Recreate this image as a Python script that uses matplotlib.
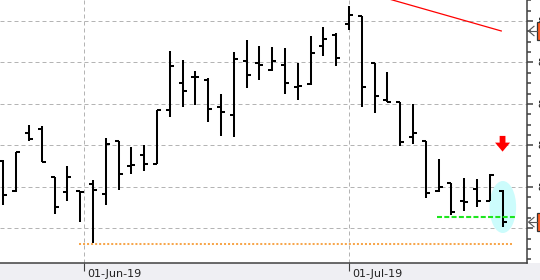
import numpy as np
import pandas as pd
import matplotlib
matplotlib.use("Agg")
import matplotlib.pyplot as plt
from matplotlib.patches import Ellipse, Rectangle, Polygon
from matplotlib.lines import Line2D
from matplotlib.ticker import MultipleLocator, FormatStrFormatter
from matplotlib.transforms import blended_transform_factory

# ---------------- data ----------------
dates = pd.bdate_range("2019-05-22", "2019-07-18")
dates = dates.drop([pd.Timestamp("2019-05-27"), pd.Timestamp("2019-07-04")])

opens = [81.63, 80.89, 82.29, 82.39, 81.23, 80.87, 80.90, 81.07, 80.82, 82.11,
         81.50, 81.76, 81.54, 82.85, 83.50, 83.64, 83.57, 82.92, 82.73, 84.03,
         83.98, 83.81, 83.93, 83.42, 83.47, 84.39, 84.66, 84.94, 85.13, 83.99,
         83.09, 83.04, 82.20, 82.11, 80.89, 81.09, 80.66, 80.95, 80.65, 80.90]
highs = [81.64, 81.84, 82.49, 82.47, 81.23, 81.50, 80.90, 81.16, 82.17, 82.11,
         81.97, 82.00, 82.85, 84.28, 84.06, 83.79, 83.62, 83.24, 84.25, 84.54,
         84.40, 84.37, 84.34, 83.99, 84.64, 84.86, 84.71, 85.36, 85.13, 83.99,
         83.78, 83.04, 83.01, 82.11, 81.67, 81.09, 81.21, 81.19, 81.31, 80.92]
lows = [80.56, 80.88, 82.11, 81.59, 80.35, 80.67, 80.16, 79.65, 80.57, 80.92,
        81.30, 81.39, 81.54, 82.69, 82.93, 82.97, 82.57, 82.23, 82.21, 83.39,
        83.58, 83.80, 83.24, 83.10, 83.46, 84.16, 83.92, 84.78, 82.93, 82.79,
        83.04, 81.99, 82.04, 80.74, 80.88, 80.32, 80.42, 80.52, 80.65, 80.04]
closes = [80.80, 81.84, 82.16, 81.61, 80.51, 81.23, 80.88, 80.92, 82.03, 81.31,
          81.52, 81.54, 82.85, 83.91, 83.31, 83.64, 82.87, 82.80, 84.08, 83.69,
          83.93, 84.03, 83.50, 83.44, 84.23, 84.56, 84.12, 85.14, 83.40, 83.18,
          83.04, 82.07, 82.29, 80.84, 80.99, 80.39, 80.63, 80.65, 81.29, 80.15]

tick_dates = ["2019-06-01", "2019-07-01"]
tick_labels = ["01-Jun-19", "01-Jul-19"]

trend_x = [29.0, 38.9]          # bar index
trend_y = [85.63, 84.76]
support_level = 80.28
support_x = [33.9, 40.0]
low_level = 79.63
low_x = [5.9, 39.8]

# ---------------- figure ----------------
W, H = 540, 280
fig = plt.figure(figsize=(W / 100, H / 100), dpi=100)
fig.patch.set_facecolor("white")
ax_bottom_px = 263.3
ax_right_px = 527.0
ax = fig.add_axes([0, (H - ax_bottom_px) / H, ax_right_px / W, ax_bottom_px / H])
ax.set_facecolor("white")

# grey strip under the plot
fig.patches.append(Rectangle((0, 0), 1, (H - ax_bottom_px) / H, transform=fig.transFigure,
                             facecolor="#efeff3", edgecolor="none", zorder=-10))

x = np.arange(len(opens))
xlim = (-0.26, 40.91)
ylim = (79.156, 85.507)
ax.set_xlim(*xlim)
ax.set_ylim(*ylim)
px_x = (xlim[1] - xlim[0]) / ax_right_px
px_y = (ylim[1] - ylim[0]) / ax_bottom_px

# grid
grid_kw = dict(color="#b4b4b4", lw=0.72, dashes=(4, 3), zorder=0.5)
for v in np.arange(80, 86, 1):
    ax.axhline(v, **grid_kw)
date_int = dates.values.astype("int64")
tick_pos = [np.interp(pd.Timestamp(d).value, date_int, x) for d in tick_dates]
for p in tick_pos:
    ax.axvline(p, **grid_kw)

# highlight ellipse around last bar
ax.add_patch(Ellipse((x[-1] + 0.02, 80.514), 2.08, 1.254, facecolor="#ccfcfc",
                     edgecolor="none", zorder=1))

# OHLC bars
tw = 4.0 * px_x
bar_kw = dict(color="black", lw=1.45, capstyle="butt", zorder=3)
ax.vlines(x, lows, highs, **bar_kw)
ax.hlines(opens, x - tw, x, **bar_kw)
ax.hlines(closes, x, x + tw, **bar_kw)

# trend line
ax.plot(trend_x, trend_y, color="#ff0000", lw=0.9, zorder=4)
# support (green dashed)
ax.plot(support_x, [support_level] * 2, color="#1ee61e", lw=1.5, dashes=(2.4, 1.1),
        zorder=4, solid_capstyle="butt", dash_capstyle="butt")
# low (orange dotted)
ax.plot(low_x, [low_level] * 2, color="#f7a64c", lw=1.45, dashes=(1, 1),
        zorder=4, dash_capstyle="butt")

# red down arrow above last bar
ax_x = x[-1]
tip = 81.85
arrow = [(ax_x - 2.9 * px_x, tip + 15.7 * px_y), (ax_x + 2.9 * px_x, tip + 15.7 * px_y),
         (ax_x + 2.9 * px_x, tip + 9 * px_y), (ax_x + 7.5 * px_x, tip + 9 * px_y),
         (ax_x, tip), (ax_x - 7.5 * px_x, tip + 9 * px_y),
         (ax_x - 2.9 * px_x, tip + 9 * px_y)]
ax.add_patch(Polygon(arrow, closed=True, facecolor="#ff0000", edgecolor="none", zorder=5))

# spines / axes
for s in ("left", "top"):
    ax.spines[s].set_visible(False)
for s in ("right", "bottom"):
    ax.spines[s].set_color("#404040")
    ax.spines[s].set_linewidth(1.1)

ax.yaxis.tick_right()
ax.yaxis.set_major_locator(MultipleLocator(1))
ax.yaxis.set_minor_locator(MultipleLocator(0.25))
ax.yaxis.set_major_formatter(FormatStrFormatter("%.2f"))
ax.tick_params(axis="y", which="major", direction="out", length=4.3, width=1.1,
               color="#404040", pad=2.9, labelsize=8, labelcolor="#222222")
ax.tick_params(axis="y", which="minor", direction="out", length=2.9, width=1.1,
               color="#404040")

ax.set_xticks(tick_pos)
ax.set_xticklabels([])
ax.tick_params(axis="x", direction="out", length=5.4, width=0.8, color="#404040")
for p, lab in zip(tick_pos, tick_labels):
    ax.annotate(lab, xy=(p, 0), xycoords=("data", "axes fraction"),
                xytext=(2.4, -9.9), textcoords="offset points",
                ha="left", va="baseline", fontsize=8, color="#222222",
                annotation_clip=False)

# price boxes on the right axis
bt = blended_transform_factory(fig.transFigure, ax.transData)
for val in (trend_y[-1], closes[-1]):
    ax.add_patch(Rectangle((536.7 / W, val - 9.3 * px_y), 20 / W, 18.6 * px_y,
                           transform=bt, facecolor="#ff5a1e", edgecolor="#333333",
                           lw=0.9, zorder=10, clip_on=False))
    chev = Line2D([534 / W, 528.5 / W, 534 / W], [val + 4.7 * px_y, val, val - 4.7 * px_y],
                  transform=bt, color="#555555", lw=0.8, zorder=10, clip_on=False)
    hline = Line2D([528.5 / W, 536.7 / W], [val, val], transform=bt, color="#555555",
                   lw=0.8, zorder=10, clip_on=False)
    ax.add_line(chev)
    ax.add_line(hline)

fig.savefig("out.png", dpi=100)
